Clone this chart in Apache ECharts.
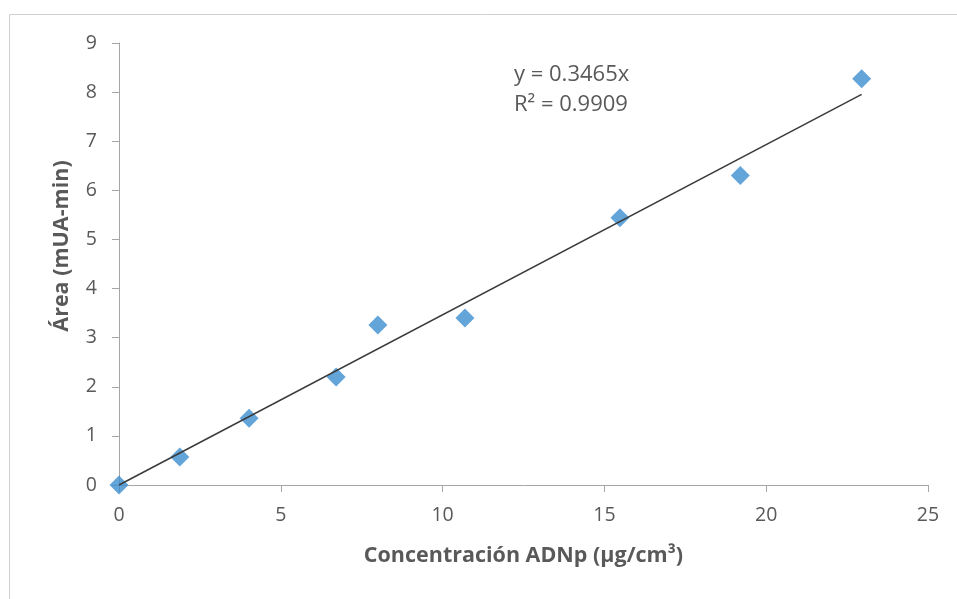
<!DOCTYPE html>
<html>
<head>
<meta charset="utf-8">
<script src="https://cdn.jsdelivr.net/npm/echarts@6/dist/echarts.min.js"></script>
<style>
  html, body { margin: 0; padding: 0; background: #fff; }
  #chart { width: 957px; height: 599px; }
</style>
</head>
<body>
<div id="chart"></div>
<script>
// Calibration points: concentration (µg/cm³) vs peak area (mUA-min)
const concentration = [0, 1.88, 4.02, 6.71, 8.0, 10.69, 15.48, 19.2, 22.95];
const area = [0, 0.57, 1.36, 2.2, 3.26, 3.4, 5.44, 6.3, 8.27];

// Linear fit through the origin
const slope = 0.3465;
const rSquared = 0.9909;

const xTicks = { min: 0, max: 25, interval: 5 };
const yTicks = { min: 0, max: 9, interval: 1 };

const xTitle = 'Concentración ADNp (µg/cm³)';
const yTitle = 'Área (mUA-min)';

const points = concentration.map((c, i) => [c, area[i]]);
const xEnd = Math.max(...concentration);
const trend = [[0, 0], [xEnd, slope * xEnd]];

const font = '"Open Sans", Lato, sans-serif';
const textColor = '#595959';
const chart = echarts.init(document.getElementById('chart'));

chart.setOption({
  animation: false,
  backgroundColor: '#ffffff',
  grid: { left: 119, right: 29, top: 43, bottom: 114 },
  xAxis: {
    type: 'value',
    min: xTicks.min, max: xTicks.max, interval: xTicks.interval,
    name: xTitle,
    nameLocation: 'middle',
    nameGap: 60,
    nameTextStyle: { fontFamily: font, fontSize: 21.5, fontWeight: 'bold', color: textColor },
    axisLine: { show: true, lineStyle: { color: '#a6a6a6', width: 1 } },
    axisTick: { show: true, length: 7, lineStyle: { color: '#a6a6a6' } },
    axisLabel: { margin: 20, fontFamily: font, fontSize: 19.5, color: textColor },
    splitLine: { show: false }
  },
  yAxis: {
    type: 'value',
    min: yTicks.min, max: yTicks.max, interval: yTicks.interval,
    axisLine: { show: true, lineStyle: { color: '#a6a6a6', width: 1 } },
    axisTick: { show: true, length: 7, lineStyle: { color: '#a6a6a6' } },
    axisLabel: { margin: 22, fontFamily: font, fontSize: 19.5, color: textColor },
    splitLine: { show: false }
  },
  series: [
    {
      type: 'line',
      data: trend,
      symbol: 'none',
      lineStyle: { color: '#3a3a3a', width: 1.5 },
      z: 3
    },
    {
      type: 'scatter',
      data: points,
      symbol: 'diamond',
      symbolSize: [19, 19],
      itemStyle: { color: '#3c8dd0' },
      z: 2
    }
  ],
  graphic: [
    {
      type: 'rect',
      silent: true,
      shape: { x: 9.5, y: 14.5, width: 980, height: 620 },
      style: { fill: 'none', stroke: '#d0d0d0', lineWidth: 1 }
    },
    {
      // vertical axis title, drawn rotated
      type: 'text',
      x: 62, y: 246,
      rotation: Math.PI / 2,
      style: {
        text: yTitle,
        font: 'bold 21.5px ' + font,
        fill: textColor,
        align: 'center',
        verticalAlign: 'middle'
      }
    },
    {
      type: 'text',
      x: 514, y: 75,
      style: { text: 'y = ' + slope + 'x', font: '22px ' + font, fill: textColor, verticalAlign: 'middle' }
    },
    {
      type: 'text',
      x: 514, y: 105,
      style: { text: 'R² = ' + rSquared, font: '22px ' + font, fill: textColor, verticalAlign: 'middle' }
    }
  ]
});
</script>
</body>
</html>
